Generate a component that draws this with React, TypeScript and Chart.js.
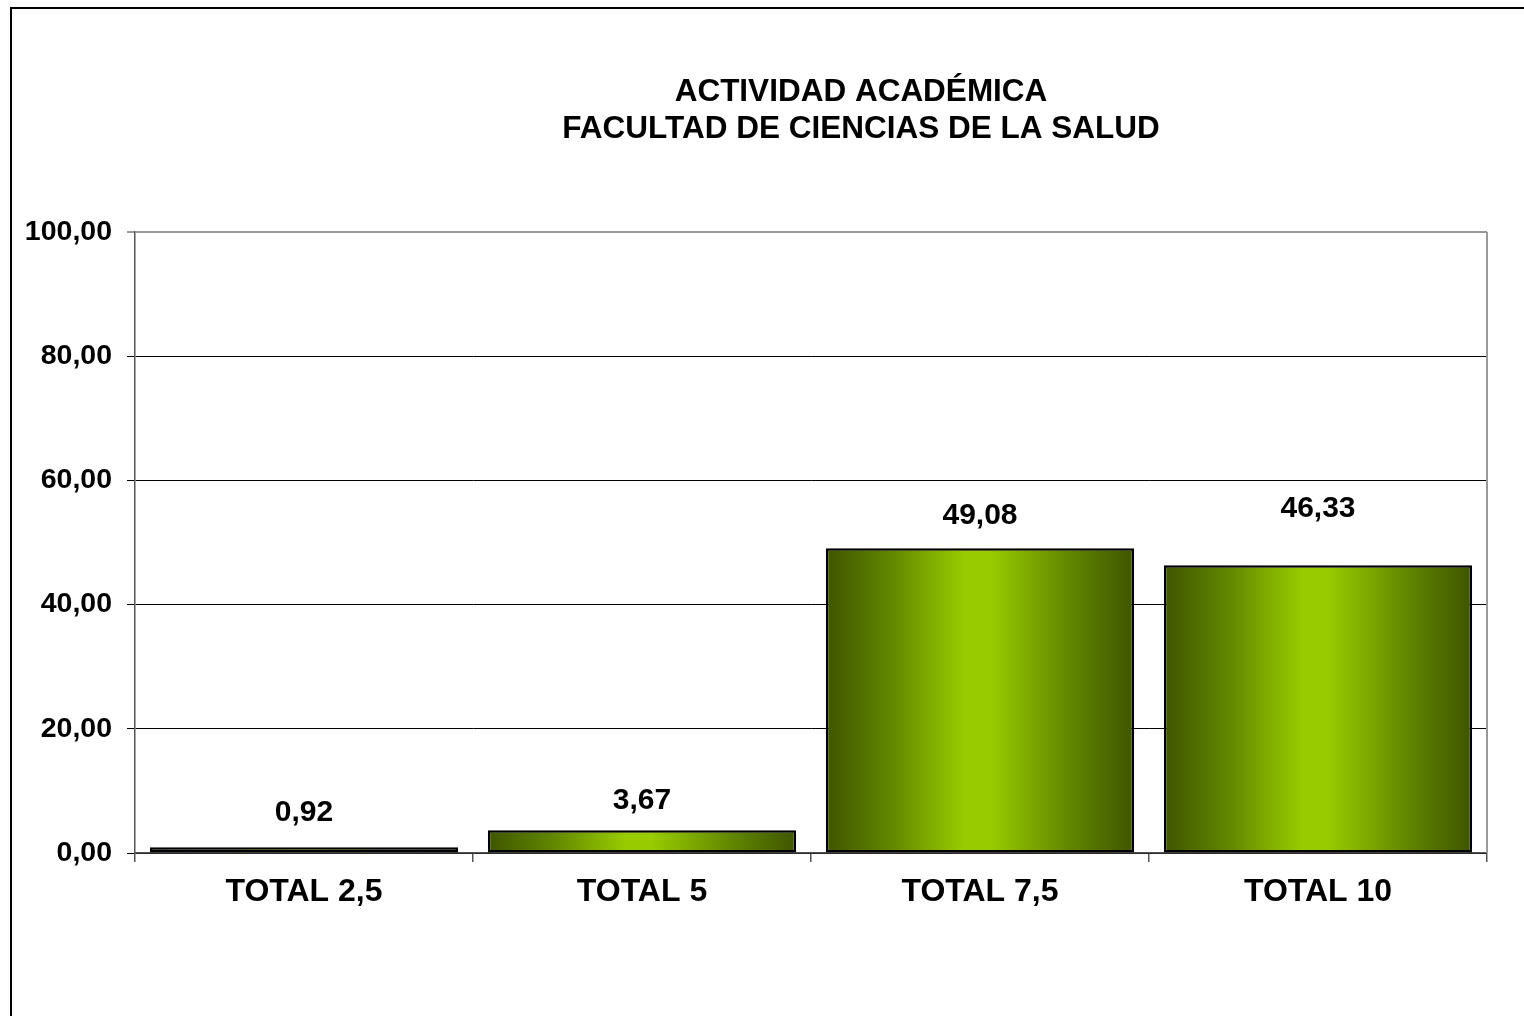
import React, { useEffect, useRef } from "react";
import { Chart, registerables } from "chart.js";

Chart.register(...registerables);

const categories = ["TOTAL 2,5", "TOTAL 5", "TOTAL 7,5", "TOTAL 10"];
const values = [0.92, 3.67, 49.08, 46.33];
const titleLines = ["ACTIVIDAD ACADÉMICA", "FACULTAD DE CIENCIAS DE LA SALUD"];
const labelLift = [35, 29, 32, 57];

const fmt = (v: number) => v.toFixed(2).replace(".", ",");
const FONT = "'Liberation Sans', Arial, sans-serif";
const BAR_PCT = 0.912;

export default function App() {
  const ref = useRef<HTMLCanvasElement | null>(null);

  useEffect(() => {
    if (!ref.current) return;

    const decor = {
      id: "decor",
      beforeDraw(chart: any) {
        const c = chart.ctx;
        c.save();
        c.fillStyle = "#fff";
        c.fillRect(0, 0, chart.width, chart.height);
        c.strokeStyle = "#000";
        c.lineWidth = 2;
        c.beginPath();
        c.moveTo(11, chart.height);
        c.lineTo(11, 8);
        c.lineTo(chart.width, 8);
        c.stroke();
        c.fillStyle = "#000";
        c.font = `bold 31.5px ${FONT}`;
        c.textAlign = "center";
        c.textBaseline = "middle";
        c.fillText(titleLines[0], 861, 92);
        c.fillText(titleLines[1], 861, 129);
        c.restore();
      },
      beforeDatasetsDraw(chart: any) {
        const c = chart.ctx;
        const a = chart.chartArea;
        c.save();
        c.strokeStyle = "#999";
        c.lineWidth = 2;
        c.beginPath();
        c.moveTo(a.right, a.top);
        c.lineTo(a.right, a.bottom);
        c.stroke();
        c.restore();
      },
      afterDatasetsDraw(chart: any) {
        const c = chart.ctx;
        const meta = chart.getDatasetMeta(0);
        c.save();
        c.fillStyle = "#000";
        c.font = `bold 30px ${FONT}`;
        c.textAlign = "center";
        c.textBaseline = "middle";
        meta.data.forEach((el: any, i: number) => {
          c.fillText(fmt(values[i]), el.x, el.y - labelLift[i]);
        });
        c.restore();
      },
    };

    const chart = new Chart(ref.current, {
      type: "bar",
      data: {
        labels: categories,
        datasets: [
          {
            data: values,
            barPercentage: BAR_PCT,
            categoryPercentage: 1,
            borderColor: "#000",
            borderWidth: 2.5,
            borderSkipped: false,
            backgroundColor: (ctx: any) => {
              const chart = ctx.chart;
              const xs = chart.scales?.x;
              if (!xs || !chart.chartArea) return "#8fbf00";
              const center = xs.getPixelForValue(ctx.dataIndex);
              const w = (xs.width / categories.length) * BAR_PCT;
              const g = chart.ctx.createLinearGradient(center - w / 2, 0, center + w / 2, 0);
              g.addColorStop(0, "#3f5500");
              g.addColorStop(0.2, "#5f8400");
              g.addColorStop(0.45, "#99cc00");
              g.addColorStop(0.53, "#99cc00");
              g.addColorStop(0.8, "#5f8400");
              g.addColorStop(1, "#3f5500");
              return g;
            },
          },
        ],
      },
      options: {
        responsive: false,
        animation: false,
        layout: { padding: { top: 232, right: 37, bottom: 0, left: 0 } },
        plugins: {
          legend: { display: false },
          tooltip: { enabled: false },
          title: { display: false },
        },
        scales: {
          x: {
            afterFit: (s: any) => {
              s.height = 163;
            },
            grid: {
              offset: true,
              drawOnChartArea: false,
              drawTicks: true,
              tickLength: 9,
              color: "#555",
              lineWidth: 1.5,
            },
            border: { color: "#555", width: 1.5 },
            ticks: {
              color: "#000",
              padding: 11,
              font: { family: FONT, size: 32, weight: "bold" },
            },
          },
          y: {
            min: 0,
            max: 100,
            afterFit: (s: any) => {
              s.width = 135;
            },
            grid: {
              tickLength: 8,
              color: (ctx: any) => (ctx.tick && ctx.tick.value === 100 ? "#999" : "#000"),
              lineWidth: (ctx: any) => (ctx.tick && ctx.tick.value === 100 ? 2 : 1),
            },
            border: { color: "#555", width: 1.5 },
            ticks: {
              stepSize: 20,
              color: "#000",
              padding: 15,
              font: { family: FONT, size: 28.5, weight: "bold" },
              callback: (v: any) => fmt(Number(v)),
            },
          },
        },
      },
      plugins: [decor],
    } as any);

    return () => chart.destroy();
  }, []);

  return (
    <canvas
      ref={ref}
      width={1524}
      height={1016}
      style={{ position: "fixed", left: 0, top: 0, display: "block" }}
    />
  );
}
